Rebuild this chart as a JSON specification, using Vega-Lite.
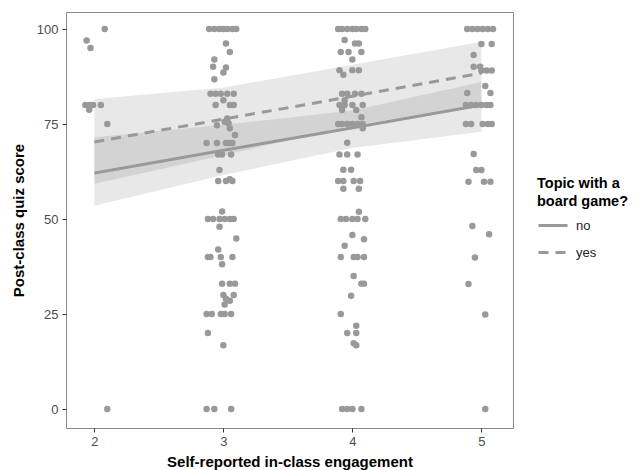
{
  "$schema": "https://vega.github.io/schema/vega-lite/v6.json",
  "width": 447,
  "height": 416,
  "autosize": {"type": "none"},
  "padding": {"left": 66, "top": 12, "right": 122, "bottom": 42},
  "background": "white",
  "config": {
    "font": "Liberation Sans",
    "view": {"stroke": "#8a8a8a", "strokeWidth": 1},
    "axis": {
      "grid": false, "domain": false, "tickColor": "#333333", "tickSize": 4,
      "labelColor": "#4d4d4d", "labelFontSize": 13, "labelFont": "Liberation Sans",
      "titleFont": "Liberation Sans", "titleFontSize": 15, "titleFontWeight": "bold", "titleColor": "black"
    }
  },
  "datasets": {
    "points": [
      {"x":1.94,"y":97},{"x":1.97,"y":95},{"x":2.08,"y":100},{"x":1.93,"y":80},{"x":1.96,"y":80},{"x":1.99,"y":80},{"x":2.05,"y":80},{"x":1.96,"y":78.8},{"x":2.1,"y":75},{"x":2.1,"y":0},
      {"x":2.89,"y":100},{"x":2.93,"y":100},{"x":2.97,"y":100},{"x":3.0,"y":100},{"x":3.03,"y":100},{"x":3.07,"y":100},{"x":3.1,"y":100},
      {"x":3.02,"y":96.2},{"x":3.05,"y":94},{"x":2.93,"y":92},{"x":2.92,"y":90.1},{"x":3.02,"y":89.9},{"x":3.0,"y":88.6},{"x":2.93,"y":86.8},
      {"x":2.9,"y":83},{"x":2.94,"y":83},{"x":2.98,"y":83},{"x":3.03,"y":83},{"x":3.08,"y":83},{"x":3.0,"y":81.3},
      {"x":2.94,"y":80},{"x":3.05,"y":80},{"x":3.08,"y":80},
      {"x":2.95,"y":74.7},{"x":3.01,"y":75.6},{"x":3.04,"y":75.2},{"x":3.05,"y":73.9},{"x":3.03,"y":76.5},{"x":3.09,"y":72.1},
      {"x":2.87,"y":70},{"x":2.95,"y":70},{"x":3.02,"y":70},{"x":3.04,"y":70},{"x":3.07,"y":70},
      {"x":2.96,"y":67},{"x":2.99,"y":67},{"x":3.06,"y":67},{"x":2.97,"y":62.9},
      {"x":2.96,"y":60},{"x":3.02,"y":60},{"x":3.07,"y":60},{"x":3.05,"y":60.5},{"x":2.99,"y":52},
      {"x":2.88,"y":50},{"x":2.92,"y":50},{"x":2.97,"y":50},{"x":3.01,"y":50},{"x":3.05,"y":50},{"x":3.08,"y":50},
      {"x":2.97,"y":48},{"x":3.1,"y":44.9},{"x":2.96,"y":42},
      {"x":2.88,"y":40},{"x":2.9,"y":40},{"x":2.98,"y":40},{"x":3.07,"y":40},{"x":2.99,"y":38.1},
      {"x":2.99,"y":33},{"x":3.05,"y":33},{"x":3.09,"y":33},
      {"x":3.0,"y":30},{"x":3.02,"y":29},{"x":3.01,"y":27.5},{"x":3.08,"y":30},{"x":3.05,"y":28.5},
      {"x":2.87,"y":25},{"x":2.91,"y":25},{"x":2.98,"y":25},{"x":3.01,"y":25},{"x":3.06,"y":25},
      {"x":2.88,"y":20},{"x":3.0,"y":16.8},
      {"x":2.87,"y":0},{"x":2.93,"y":0},{"x":3.06,"y":0},
      {"x":3.89,"y":100},{"x":3.92,"y":100},{"x":3.96,"y":100},{"x":4.0,"y":100},{"x":4.03,"y":100},{"x":4.07,"y":100},{"x":4.1,"y":100},
      {"x":3.94,"y":97.1},{"x":4.02,"y":96.2},{"x":4.05,"y":96.2},{"x":3.91,"y":94},{"x":3.97,"y":94},{"x":4.07,"y":94},{"x":4.0,"y":92},
      {"x":3.9,"y":89.2},{"x":4.0,"y":89.2},{"x":4.05,"y":89.2},{"x":3.93,"y":88},
      {"x":3.92,"y":83},{"x":3.96,"y":83},{"x":4.02,"y":83},{"x":4.07,"y":83},{"x":3.94,"y":81.3},
      {"x":3.9,"y":80},{"x":3.94,"y":80},{"x":4.0,"y":80},{"x":4.08,"y":80},
      {"x":3.92,"y":78.7},{"x":4.03,"y":78.7},{"x":4.07,"y":76.8},
      {"x":3.89,"y":75},{"x":3.92,"y":75},{"x":3.96,"y":75},{"x":4.0,"y":75},{"x":4.04,"y":75},{"x":4.08,"y":75},
      {"x":4.08,"y":73.9},{"x":3.96,"y":70.1},
      {"x":3.9,"y":67},{"x":3.96,"y":67},{"x":4.04,"y":67},{"x":3.93,"y":63},{"x":3.99,"y":63},
      {"x":3.89,"y":60},{"x":3.93,"y":60},{"x":4.01,"y":60},{"x":4.06,"y":60},{"x":3.93,"y":58},{"x":4.05,"y":58},{"x":4.05,"y":51.9},
      {"x":3.91,"y":50},{"x":3.95,"y":50},{"x":4.0,"y":50},{"x":4.04,"y":50},{"x":4.1,"y":50},
      {"x":4.0,"y":45.8},{"x":4.09,"y":44.7},{"x":3.94,"y":43},
      {"x":3.91,"y":40},{"x":4.01,"y":40},{"x":4.04,"y":40},{"x":4.09,"y":40},
      {"x":4.01,"y":35},{"x":4.07,"y":33},{"x":4.09,"y":33},{"x":3.99,"y":29.8},{"x":3.91,"y":25},{"x":4.03,"y":21.9},
      {"x":3.96,"y":20},{"x":4.03,"y":20},{"x":4.03,"y":16.8},{"x":4.01,"y":17.3},
      {"x":3.92,"y":0},{"x":3.96,"y":0},{"x":4.0,"y":0},{"x":4.07,"y":0},
      {"x":4.89,"y":100},{"x":4.93,"y":100},{"x":4.97,"y":100},{"x":5.01,"y":100},{"x":5.05,"y":100},{"x":5.09,"y":100},
      {"x":5.0,"y":96.1},{"x":5.08,"y":96.1},{"x":4.94,"y":93.2},{"x":4.94,"y":90.1},{"x":4.99,"y":90.1},
      {"x":5.0,"y":89.1},{"x":5.04,"y":89.1},{"x":5.08,"y":89.1},{"x":5.03,"y":85},{"x":4.89,"y":83.2},{"x":5.07,"y":83.2},
      {"x":4.88,"y":80},{"x":4.92,"y":80},{"x":4.96,"y":80},{"x":5.0,"y":80},{"x":5.04,"y":80},{"x":5.07,"y":80},
      {"x":4.88,"y":75},{"x":4.92,"y":75},{"x":5.01,"y":75},{"x":5.05,"y":75},{"x":5.08,"y":75},
      {"x":4.94,"y":67.1},{"x":4.96,"y":62.9},{"x":5.0,"y":62.9},{"x":4.9,"y":59.8},{"x":5.02,"y":59.8},{"x":5.07,"y":59.8},
      {"x":4.93,"y":48.2},{"x":5.06,"y":46},{"x":4.95,"y":39.9},{"x":4.9,"y":32.9},{"x":5.03,"y":24.9},{"x":5.03,"y":0}
    ],
    "bands": [
      {"group":"no","x":2,"lo":53.5,"hi":71.5},
      {"group":"no","x":3,"lo":61.6,"hi":74.8},
      {"group":"no","x":4,"lo":68.7,"hi":78.6},
      {"group":"no","x":5,"lo":73,"hi":86.1},
      {"group":"yes","x":2,"lo":59.3,"hi":81.6},
      {"group":"yes","x":3,"lo":66.8,"hi":84.6},
      {"group":"yes","x":4,"lo":74.6,"hi":90.6},
      {"group":"yes","x":5,"lo":80.1,"hi":96.7}
    ],
    "fits": [
      {"group":"no","x":2,"y":62.1},{"group":"no","x":3,"y":68.1},{"group":"no","x":4,"y":74},{"group":"no","x":5,"y":80},
      {"group":"yes","x":2,"y":70.3},{"group":"yes","x":3,"y":76.3},{"group":"yes","x":4,"y":82.3},{"group":"yes","x":5,"y":88.4}
    ]
  },
  "layer": [
    {
      "data": {"name": "bands"},
      "mark": {"type": "area", "fill": "black", "fillOpacity": 0.09, "stroke": null},
      "encoding": {
        "x": {"field": "x", "type": "quantitative", "scale": {"domain": [1.78, 5.245], "nice": false, "zero": false},
              "axis": {"values": [2,3,4,5], "format": "d", "title": "Self-reported in-class engagement", "labelPadding": 3, "titlePadding": 6}},
        "y": {"field": "lo", "type": "quantitative", "scale": {"domain": [-5, 104.5], "nice": false, "zero": false},
              "axis": {"values": [0,25,50,75,100], "title": "Post-class quiz score", "labelPadding": 4, "titlePadding": 10}},
        "y2": {"field": "hi"},
        "detail": {"field": "group"}
      }
    },
    {
      "data": {"name": "points"},
      "mark": {"type": "circle", "color": "#999999", "opacity": 1, "size": 42},
      "encoding": {
        "x": {"field": "x", "type": "quantitative"},
        "y": {"field": "y", "type": "quantitative"}
      }
    },
    {
      "data": {"name": "fits"},
      "mark": {"type": "line", "color": "#999999", "strokeWidth": 3},
      "encoding": {
        "x": {"field": "x", "type": "quantitative"},
        "y": {"field": "y", "type": "quantitative"},
        "strokeDash": {
          "field": "group", "type": "nominal",
          "scale": {"domain": ["no", "yes"], "range": [[1, 0], [10, 7]]},
          "legend": {
            "title": ["Topic with a", "board game?"],
            "orient": "none", "legendX": 471, "legendY": 165,
            "titleFontSize": 14.5, "titleLineHeight": 18, "titleFontWeight": "bold", "titleColor": "black", "titleFont": "Liberation Sans",
            "labelFontSize": 13, "labelColor": "#222222", "labelFont": "Liberation Sans",
            "symbolType": "stroke", "symbolSize": 841, "symbolStrokeWidth": 3, "symbolStrokeColor": "#999999",
            "rowPadding": 4, "titlePadding": 0, "labelOffset": 7
          }
        }
      }
    }
  ]
}
